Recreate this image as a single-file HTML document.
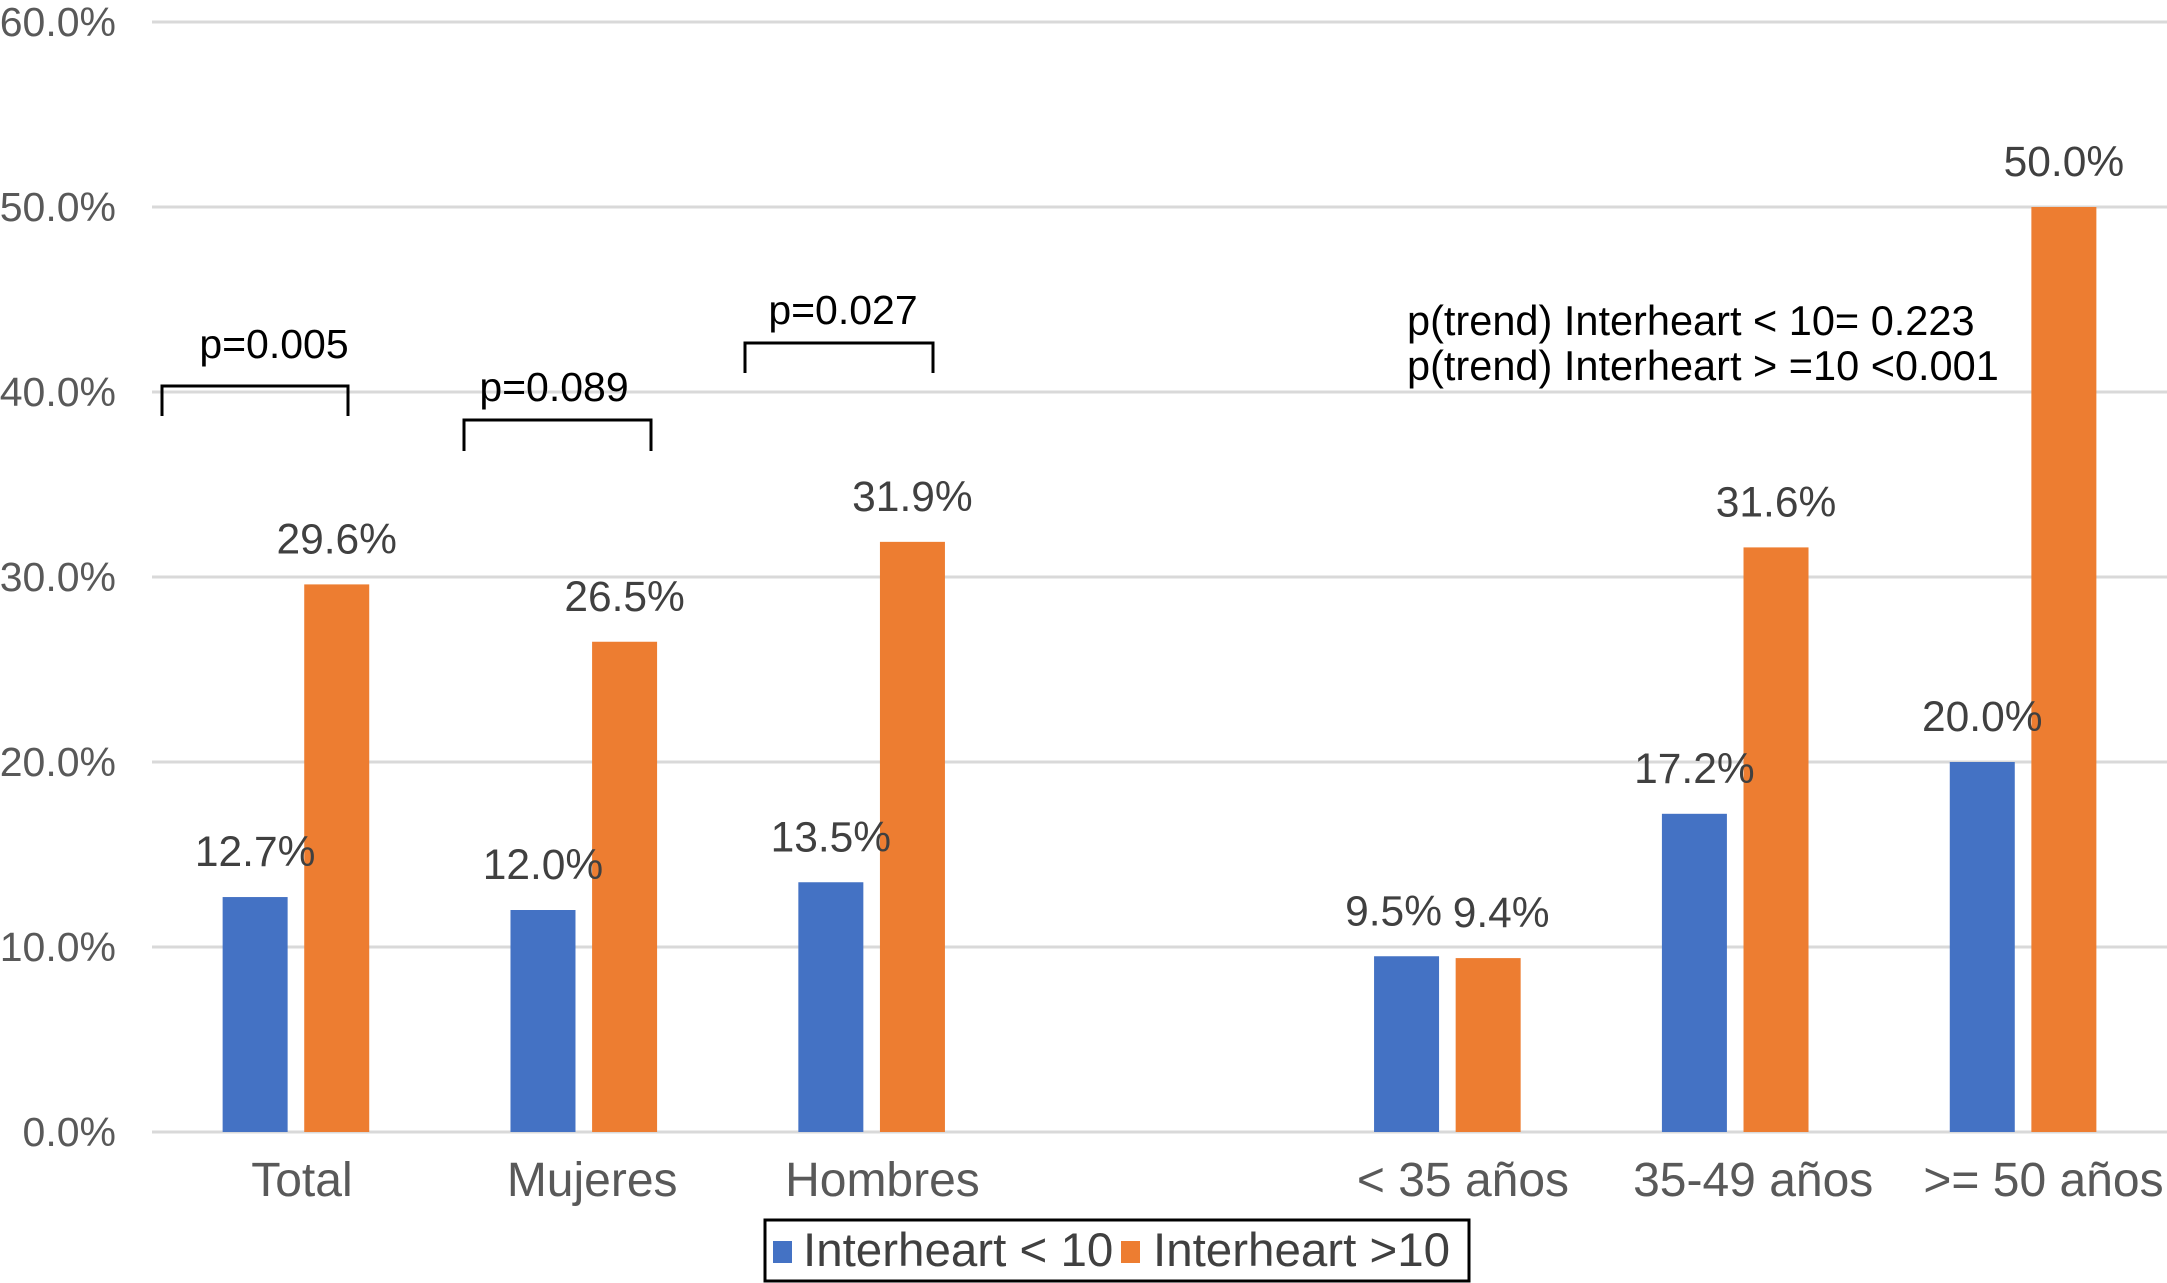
<!DOCTYPE html>
<html><head><meta charset="utf-8"><style>
html,body{margin:0;padding:0;background:#fff}
svg{display:block;font-family:"Liberation Sans",Arial,sans-serif}
</style></head><body>
<svg id="chart" width="2167" height="1283" viewBox="0 0 2167 1283" xmlns="http://www.w3.org/2000/svg">
<g id="grid"></g>
<g id="yticks"></g>
<g id="bars"></g>
<g id="vals"></g>
<g id="xlabels"></g>
<g fill="none" stroke="#000" stroke-width="3">
  <path d="M162,416 V386 H348 V416"/>
  <path d="M464,451 V420 H651 V451"/>
  <path d="M745,373 V343 H933 V373"/>
</g>
<g font-size="41" fill="#000" text-anchor="middle">
  <text x="274" y="358">p=0.005</text>
  <text x="554" y="401">p=0.089</text>
  <text x="843" y="324">p=0.027</text>
</g>
<g font-size="41.5" fill="#000">
  <text x="1407" y="335">p(trend) Interheart &lt; 10= 0.223</text>
  <text x="1407" y="380">p(trend) Interheart &gt; =10 &lt;0.001</text>
</g>
<g>
  <rect x="765" y="1220" width="704" height="61" fill="#fff" stroke="#000" stroke-width="3"/>
  <rect x="773" y="1241" width="19" height="22" fill="#4472C4"/>
  <text x="803" y="1266" font-size="47.5" fill="#404040">Interheart &lt; 10</text>
  <rect x="1121" y="1241" width="19" height="22" fill="#ED7D31"/>
  <text x="1153" y="1266" font-size="47.5" fill="#404040">Interheart &gt;10</text>
</g>
</svg>
<script>
const categories = ["Total","Mujeres","Hombres","","< 35 años","35-49 años",">= 50 años"];
const lowValues = [12.7,12.0,13.5,null,9.5,17.2,20.0];
const highValues = [29.6,26.5,31.9,null,9.4,31.6,50.0];
const yTicks = [0,10,20,30,40,50,60];

const NS="http://www.w3.org/2000/svg";
const x0=152, x1=2167, y0=1132, yTop=22;
const slot=(x1-x0)/categories.length;
function yScale(v){return y0-(v/60)*(y0-yTop);}
function xCenter(i){return x0+slot*(i+0.5);}
function mk(tag,attrs,parent){const e=document.createElementNS(NS,tag);for(const k in attrs)e.setAttribute(k,attrs[k]);parent.appendChild(e);return e;}
const grid=document.getElementById('grid'),yt=document.getElementById('yticks'),bars=document.getElementById('bars'),vals=document.getElementById('vals'),xl=document.getElementById('xlabels');
yTicks.forEach(t=>{
  const l=mk('line',{x1:x0,x2:x1,y1:yScale(t),y2:yScale(t),stroke:'#d9d9d9','stroke-width':3},grid);
  
  
  const tx=mk('text',{x:116,y:yScale(t)+14,'text-anchor':'end','font-size':41,fill:'#595959'},yt);
  tx.textContent=t.toFixed(1)+'%';
  
  
});
const bw=65, gap=8.3;
categories.forEach((c,i)=>{
  const cx=xCenter(i);
  if(c){
    const t=mk('text',{x:cx+6+i*2.4,y:1196,'text-anchor':'middle','font-size':48,fill:'#595959'},xl);
    t.textContent=c;
    
    
  }
  const close = lowValues[i]!=null && Math.abs(lowValues[i]-highValues[i])<3;
  [[lowValues,'#4472C4',-1],[highValues,'#ED7D31',1]].forEach(([arr,col,s])=>{
    const v=arr[i]; if(v==null) return;
    const bx = s<0 ? cx-gap-bw : cx+gap;
    const r=mk('rect',{x:bx,y:yScale(v),width:bw,height:y0-yScale(v),fill:col},bars);
    
    
    const nudge = close ? s*13 : 0;
    const t=mk('text',{x:bx+bw/2+nudge,y:yScale(v)-31,'text-anchor':'middle','font-size':42.5,fill:'#404040'},vals);
    t.textContent=v.toFixed(1)+'%';
    
    
  });
});
</script>
</body></html>
